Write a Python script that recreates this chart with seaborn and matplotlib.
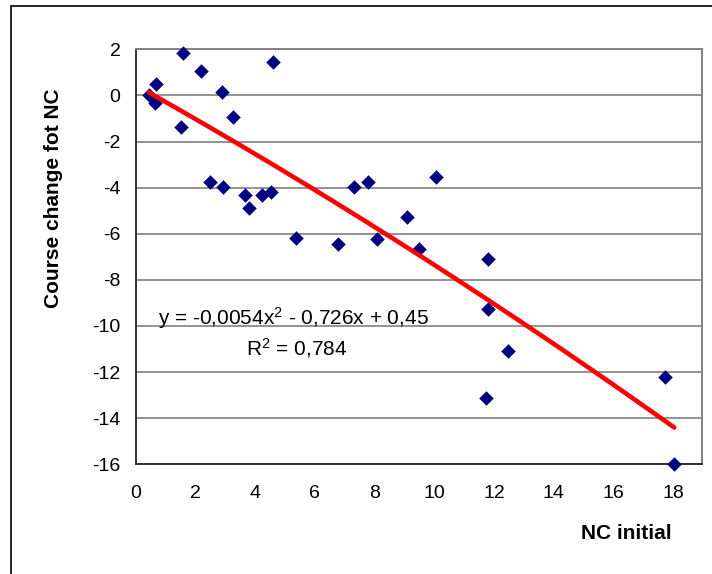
import numpy as np
import pandas as pd
import seaborn as sns
import matplotlib
matplotlib.use("Agg")
import matplotlib.pyplot as plt
from matplotlib.patches import Rectangle

# values
nc_initial = [0.45, 0.67, 0.65, 1.57, 1.51, 2.19, 2.90, 3.27, 4.60, 2.49,
              2.91, 3.65, 3.80, 4.23, 4.52, 5.36, 6.78, 7.31, 7.78, 10.06,
              9.08, 8.09, 9.50, 11.79, 11.81, 12.48, 11.74, 17.73, 18.04]
course_change = [0.02, 0.49, -0.35, 1.83, -1.35, 1.06, 0.16, -0.93, 1.46, -3.74,
                 -3.96, -4.30, -4.90, -4.30, -4.18, -6.20, -6.43, -3.96, -3.74, -3.55,
                 -5.26, -6.24, -6.67, -7.10, -9.27, -11.08, -13.12, -12.23, -16.0]
trend_coef = [-0.0054, -0.726, 0.45]  # quadratic trendline from the chart label
equation_label = "y = -0,0054x$^{2}$ - 0,726x + 0,45"
r2_label = "R$^{2}$ = 0,784"
x_ticks = [0, 2, 4, 6, 8, 10, 12, 14, 16, 18]
y_ticks = [2, 0, -2, -4, -6, -8, -10, -12, -14, -16]

sns.set_style("white")
plt.rcParams["font.family"] = ["Liberation Sans", "DejaVu Sans"]
plt.rcParams["axes.unicode_minus"] = False
plt.rcParams["mathtext.fontset"] = "custom"
plt.rcParams["mathtext.rm"] = "Liberation Sans"
plt.rcParams["mathtext.it"] = "Liberation Sans"
plt.rcParams["mathtext.default"] = "rm"

df = pd.DataFrame({"nc": nc_initial, "change": course_change})
xs = np.linspace(min(nc_initial), max(nc_initial), 200)
trend = pd.DataFrame({"nc": xs, "change": np.polyval(trend_coef, xs)})

fig = plt.figure(figsize=(7.12, 5.74), dpi=100)
ax = fig.add_axes([0.1906, 0.1911, 0.795, 0.723])

sns.scatterplot(data=df, x="nc", y="change", ax=ax, marker="D", s=50,
                color="#000080", edgecolor="#000080", linewidth=0.3,
                clip_on=False, zorder=3)
sns.lineplot(data=trend, x="nc", y="change", ax=ax, color="#ff0000",
             linewidth=3.3, zorder=4)

ax.set_xlim(0, 18.96)
ax.set_ylim(-16, 2)
ax.set_xticks(x_ticks)
ax.set_yticks(y_ticks)
ax.set_xticklabels([str(t) for t in x_ticks])
ax.set_yticklabels([str(t) for t in y_ticks])
ax.tick_params(axis="both", labelsize=14, direction="out", length=5,
               width=1, color="black", labelcolor="black")
ax.tick_params(axis="y", pad=6)
ax.tick_params(axis="x", pad=10)

ax.yaxis.grid(True, color="#808080", linewidth=1.2)
ax.xaxis.grid(False)
ax.set_axisbelow(True)

for side in ["left", "bottom"]:
    ax.spines[side].set_color("#303030")
    ax.spines[side].set_linewidth(1.4)
for side in ["right", "top"]:
    ax.spines[side].set_color("#808080")
    ax.spines[side].set_linewidth(1.4)

ax.set_xlabel("")
ax.set_ylabel("")

ax.text(0.76, -9.93, equation_label, fontsize=15, va="baseline", ha="left",
        color="black")
ax.text(3.68, -11.28, r2_label, fontsize=15, va="baseline", ha="left",
        color="black")

fig.text(626.7 / 712, 1 - 533.3 / 574, "NC initial", fontsize=15,
         fontweight="bold", ha="center", va="center", color="black")
fig.text(54 / 712, 1 - 198 / 574, "Course change fot NC", fontsize=15,
         fontweight="bold", rotation=90, ha="center", va="center",
         color="black")

# chart area border (only left and top edges are inside the picture)
fig.add_artist(Rectangle((11 / 712, -0.2), 1.0, 1.2 - 6 / 574,
                         transform=fig.transFigure, fill=False,
                         edgecolor="black", linewidth=1.2, clip_on=False))

fig.savefig("out.png", dpi=100)
